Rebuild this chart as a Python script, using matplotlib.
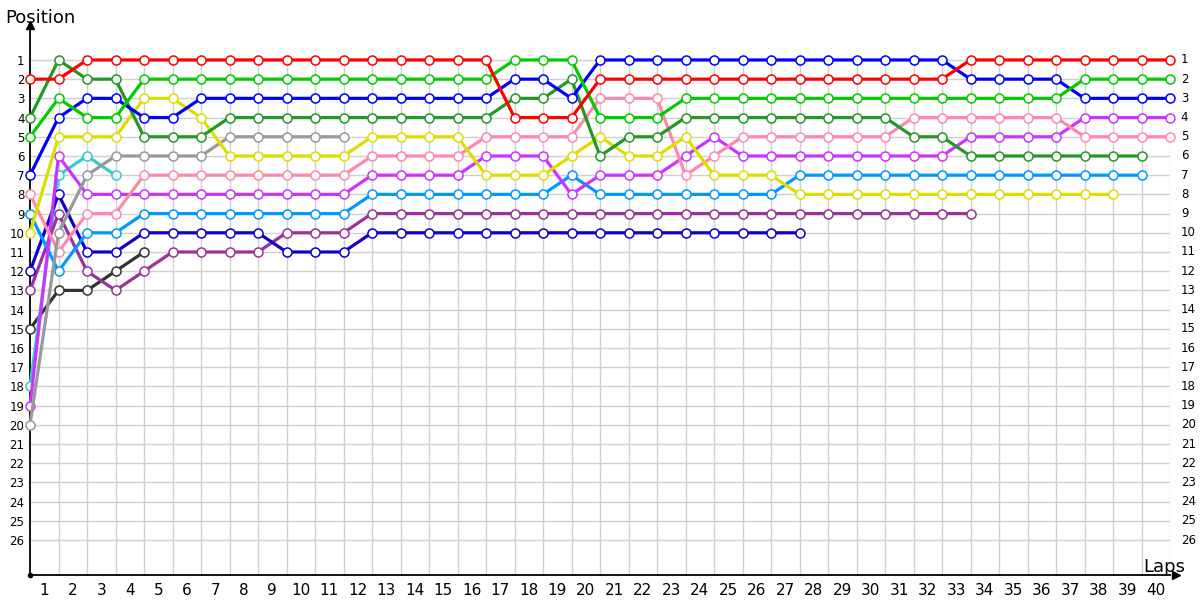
import matplotlib
matplotlib.use("Agg")
import matplotlib.pyplot as plt

# positions per lap, lap 0 = start
laps = list(range(0, 41))

red = [2, 2, 1, 1, 1, 1, 1, 1, 1, 1, 1, 1, 1, 1, 1, 1, 1, 4, 4, 4, 2,
       2, 2, 2, 2, 2, 2, 2, 2, 2, 2, 2, 2, 1, 1, 1, 1, 1, 1, 1, 1]
green = [5, 3, 4, 4, 2, 2, 2, 2, 2, 2, 2, 2, 2, 2, 2, 2, 2, 1, 1, 1, 4,
         4, 4, 3, 3, 3, 3, 3, 3, 3, 3, 3, 3, 3, 3, 3, 3, 2, 2, 2, 2]
blue = [7, 4, 3, 3, 4, 4, 3, 3, 3, 3, 3, 3, 3, 3, 3, 3, 3, 2, 2, 3, 1,
        1, 1, 1, 1, 1, 1, 1, 1, 1, 1, 1, 1, 2, 2, 2, 2, 3, 3, 3, 3]
dark_green = [4, 1, 2, 2, 5, 5, 5, 4, 4, 4, 4, 4, 4, 4, 4, 4, 4, 3, 3, 2, 6,
              5, 5, 4, 4, 4, 4, 4, 4, 4, 4, 5, 5, 6, 6, 6, 6, 6, 6, 6]
yellow = [10, 5, 5, 5, 3, 3, 4, 6, 6, 6, 6, 6, 5, 5, 5, 5, 7, 7, 7, 6, 5,
          6, 6, 5, 7, 7, 7, 8, 8, 8, 8, 8, 8, 8, 8, 8, 8, 8, 8]
gray = [20, 10, 7, 6, 6, 6, 6, 5, 5, 5, 5, 5]
pink = [8, 11, 9, 9, 7, 7, 7, 7, 7, 7, 7, 7, 6, 6, 6, 6, 5, 5, 5, 5, 3,
        3, 3, 7, 6, 5, 5, 5, 5, 5, 5, 4, 4, 4, 4, 4, 4, 5, 5, 5, 5]
magenta = [19, 6, 8, 8, 8, 8, 8, 8, 8, 8, 8, 8, 7, 7, 7, 7, 6, 6, 6, 8, 7,
           7, 7, 6, 5, 6, 6, 6, 6, 6, 6, 6, 6, 5, 5, 5, 5, 4, 4, 4, 4]
sky = [9, 12, 10, 10, 9, 9, 9, 9, 9, 9, 9, 9, 8, 8, 8, 8, 8, 8, 8, 7, 8,
       8, 8, 8, 8, 8, 8, 7, 7, 7, 7, 7, 7, 7, 7, 7, 7, 7, 7, 7]
navy = [12, 8, 11, 11, 10, 10, 10, 10, 10, 11, 11, 11, 10, 10, 10, 10, 10,
        10, 10, 10, 10, 10, 10, 10, 10, 10, 10, 10]
purple = [13, 9, 12, 13, 12, 11, 11, 11, 11, 10, 10, 10, 9, 9, 9, 9, 9, 9,
          9, 9, 9, 9, 9, 9, 9, 9, 9, 9, 9, 9, 9, 9, 9, 9]
cyan = [18, 7, 6, 7]
black = [15, 13, 13, 12, 11]

series = [black, cyan, purple, navy, sky, magenta, pink, gray, yellow,
          dark_green, blue, green, red]
colors = ["#333333", "#33cccc", "#993399", "#1100cc", "#0099ff", "#cc33ff",
          "#ff88aa", "#999999", "#dddd00", "#229922", "#0000ff", "#00cc00",
          "#ff0000"]

positions = list(range(1, 27))

fig = plt.figure(figsize=(12, 6), dpi=100)
ax = fig.add_axes([30 / 1200, 25 / 600, 1140 / 1200, 550 / 600])
ax.set_xlim(0, 40)
ax.set_ylim(27.82, -0.82)

# grid
ax.hlines(positions, 0, 40, color="#d0d0d0", lw=1, zorder=0)
ax.vlines(laps[1:], 0.74, 27.82, color="#d0d0d0", lw=1, zorder=0)

for s, c in zip(series, colors):
    ax.plot(laps[:len(s)], s, color=c, lw=2.3, marker="o", ms=6.5,
            mfc="white", mec=c, mew=1.1, clip_on=False, zorder=3)

for side in ["top", "right"]:
    ax.spines[side].set_visible(False)
ax.spines["left"].set_linewidth(1.3)
ax.spines["bottom"].set_linewidth(1.3)

# axis arrows
ax.plot([0], [1.0], marker="^", color="black", ms=6, transform=ax.transAxes, clip_on=False)
ax.plot([1.005], [0], marker=">", color="black", ms=6, transform=ax.transAxes, clip_on=False)
ax.plot([0], [0], marker="o", color="black", ms=3, transform=ax.transAxes, clip_on=False)

ax.set_xticks([l - 0.5 for l in laps[1:]])
ax.set_xticklabels([str(l) for l in laps[1:]], fontsize=11)
ax.set_yticks(positions)
ax.set_yticklabels([str(p) for p in positions], fontsize=8.5)
ax.tick_params(axis="x", length=0, pad=6)
ax.tick_params(axis="y", length=0, pad=4)

for p in positions:
    ax.text(40.38, p, str(p), fontsize=8.5, ha="left", va="center")

fig.text(5 / 1200, 1 - 18 / 600, "Position", fontsize=13, ha="left", va="center")
fig.text(1143 / 1200, 1 - 567 / 600, "Laps", fontsize=13, ha="left", va="center")

fig.savefig("out.png", dpi=100)
